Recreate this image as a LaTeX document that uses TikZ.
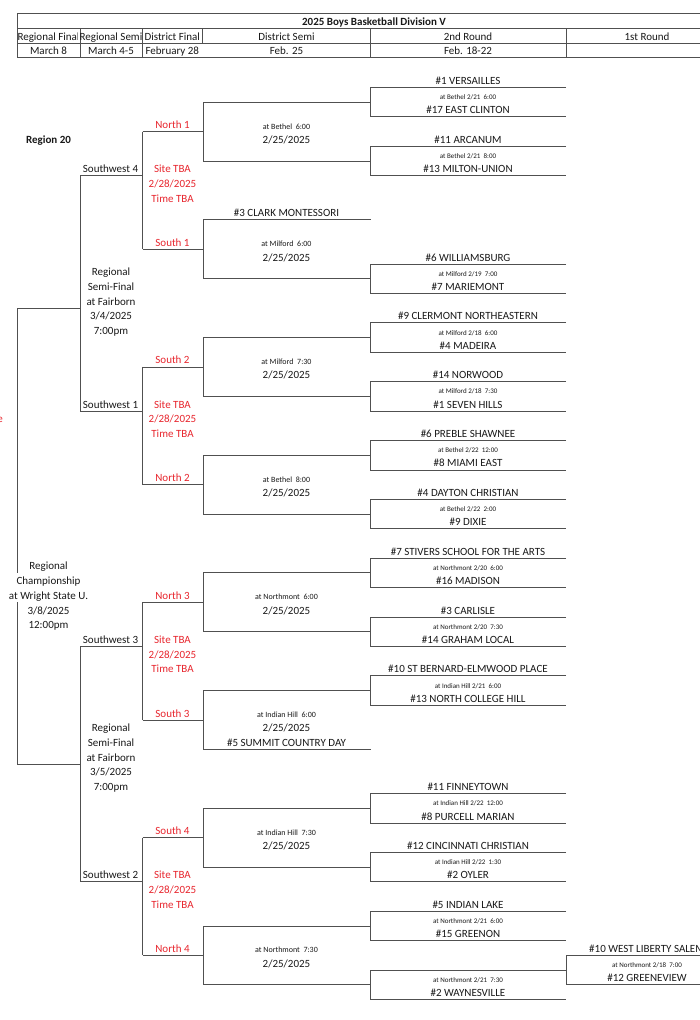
\documentclass[tikz,border=0pt]{standalone}
\usepackage{fontspec}
\setmainfont{Carlito}
\definecolor{bred}{RGB}{232,38,46}
\definecolor{bline}{RGB}{80,80,80}
\definecolor{btext}{RGB}{25,25,25}

% 2nd round match: #1 id, #2 top row, #3 top team, #4 time, #5 bottom team
\newcommand\bmatch[5]{%
  \coordinate (#1tl) at (370.5,{yk(#2)});
  \coordinate (#1tr) at (566,{yk(#2)});
  \coordinate (#1bl) at (370.5,{yk(#2+2)});
  \coordinate (#1br) at (566,{yk(#2+2)});
  \coordinate (#1m) at (370.5,{yk(#2+1)});
  \node[team] (#1a) at (468,{yk(#2)-3}) {#3};
  \node[timetxt] (#1s) at (468,{yk(#2+1)-2.5}) {#4};
  \node[team] (#1b) at (468,{yk(#2+2)-3}) {#5};
  \draw[br] (#1tr) -- (#1tl) -- (#1bl) -- (#1br);
}
% district semi: #1 id, #2 top feed, #3 bottom feed, #4 out row, #5 label, #6 site
\newcommand\dsemi[6]{%
  \coordinate (#1o) at (142.5,{yk(#4)});
  \coordinate (#1j) at (203,{yk(#4)});
  \draw[br] (#2) -- (#2 -| #1j) -- (#3 -| #1j) -- (#3);
  \draw[br] (#1o) -- (#1j);
  \node[redt] (#1l) at (172.5,{yk(#4)-3}) {#5};
  \node[dsm] (#1s) at (286.5,{yk(#4)-2.5}) {#6};
  \node[team] (#1d) at (286.5,{yk(#4+1)-3}) {2/25/2025};
}
% district final: #1 id, #2 top semi, #3 bottom semi, #4 out row, #5 label
\newcommand\dfinal[5]{%
  \coordinate (#1o) at (80,{yk(#4)});
  \coordinate (#1j) at (142.5,{yk(#4)});
  \draw[br] (#2o) -- (#3o);
  \draw[br] (#1o) -- (#1j);
  \node[team] (#1l) at (110.5,{yk(#4)-3}) {#5};
  \node[redt] (#1a) at (172.5,{yk(#4)-3}) {Site TBA};
  \node[redt] (#1b) at (172.5,{yk(#4+1)-3}) {2/28/2025};
  \node[redt] (#1c) at (172.5,{yk(#4+2)-3}) {Time TBA};
}
% regional semi: #1 id, #2 top final, #3 bottom final, #4 out row, #5 date
\newcommand\rsemi[5]{%
  \coordinate (#1o) at (17,{yk(#4)});
  \coordinate (#1j) at (80,{yk(#4)});
  \draw[br] (#2o) -- (#3o);
  \draw[br] (#1o) -- (#1j);
  \node[team] (#1a) at (111,{yk(#4-2)-3}) {Regional};
  \node[team] (#1b) at (111,{yk(#4-1)-3}) {Semi-Final};
  \node[team] (#1c) at (111,{yk(#4)-3}) {at Fairborn};
  \node[team] (#1d) at (111,{yk(#4+1)-3}) {#5};
  \node[team] (#1e) at (111,{yk(#4+2)-3}) {7:00pm};
}

\begin{document}
\begin{tikzpicture}[x=1pt,y=-1pt,
  declare function={yk(\k)=87.5+14.71*\k;},
  br/.style={draw=bline,line width=0.9pt},
  hd/.style={draw=bline,line width=0.8pt},
  team/.style={anchor=base,inner sep=0pt,text=btext,font=\fontsize{11}{13}\selectfont},
  timetxt/.style={anchor=base,inner sep=0pt,text=btext,font=\fontsize{7}{8}\selectfont},
  dsm/.style={anchor=base,inner sep=0pt,text=btext,font=\fontsize{8}{9}\selectfont},
  redt/.style={team,text=bred},
]
\clip (0,0) rectangle (700,1020);
\fill[white] (0,0) rectangle (700,1020);

% ---------- header table ----------
\draw[hd] (17,13.3) -- (700,13.3);
\draw[hd] (17,28.3) -- (700,28.3);
\draw[hd] (17,43) -- (700,43);
\draw[hd] (17,57.5) -- (700,57.5);
\draw[hd] (17,13.3) -- (17,57.5);
\foreach \x in {80,142.5,370.5,566} \draw[hd] (\x,28.3) -- (\x,57.5);
\draw[hd] (202,28.3) -- (202,43);
\node[team,font=\fontsize{11}{13}\selectfont\bfseries] (title) at (374,25.3) {2025 Boys Basketball Division V};
\begin{scope}
  \clip (17.5,28.8) rectangle (77.5,42.5);
  \node[team] (hRF) at (48.5,40) {Regional Final};
\end{scope}
\begin{scope}
  \clip (80.5,28.8) rectangle (142,42.5);
  \node[team] (hRS) at (111,40) {Regional Semi};
\end{scope}
\node[team] (hDF) at (172.3,40) {District Final};
\node[team] (hDS) at (286.5,40) {District Semi};
\node[team] (h2R) at (468,40) {2nd Round};
\node[team] (h1R) at (647,40) {1st Round};
\node[team] (dRF) at (48.5,54.5) {March 8};
\node[team] (dRS) at (111,54.5) {March 4-5};
\node[team] (dDF) at (172.3,54.5) {February 28};
\node[team] (dDS) at (286.5,54.5) {Feb. 25};
\node[team] (d2R) at (468,54.5) {Feb. 18-22};

\node[team,font=\fontsize{11}{13}\selectfont\bfseries] (reg) at (48.5,{yk(4)-3}) {Region 20};
\node[redt,anchor=base east] (cut) at (3,{yk(23)-3}) {e};

% ---------- 2nd round ----------
\bmatch{m1}{0}{\#1 VERSAILLES}{at Bethel 2/21\ \ 6:00}{\#17 EAST CLINTON}
\bmatch{m2}{4}{\#11 ARCANUM}{at Bethel 2/21\ \ 8:00}{\#13 MILTON-UNION}
\bmatch{m3}{12}{\#6 WILLIAMSBURG}{at Milford 2/19\ \ 7:00}{\#7 MARIEMONT}
\bmatch{m4}{16}{\#9 CLERMONT NORTHEASTERN}{at Milford 2/18\ \ 6:00}{\#4 MADEIRA}
\bmatch{m5}{20}{\#14 NORWOOD}{at Milford 2/18\ \ 7:30}{\#1 SEVEN HILLS}
\bmatch{m6}{24}{\#6 PREBLE SHAWNEE}{at Bethel 2/22\ \ 12:00}{\#8 MIAMI EAST}
\bmatch{m7}{28}{\#4 DAYTON CHRISTIAN}{at Bethel 2/22\ \ 2:00}{\#9 DIXIE}
\bmatch{m8}{32}{\#7 STIVERS SCHOOL FOR THE ARTS}{at Northmont 2/20\ \ 6:00}{\#16 MADISON}
\bmatch{m9}{36}{\#3 CARLISLE}{at Northmont 2/20\ \ 7:30}{\#14 GRAHAM LOCAL}
\bmatch{m10}{40}{\#10 ST BERNARD-ELMWOOD PLACE}{at Indian Hill 2/21\ \ 6:00}{\#13 NORTH COLLEGE HILL}
\bmatch{m11}{48}{\#11 FINNEYTOWN}{at Indian Hill 2/22\ \ 12:00}{\#8 PURCELL MARIAN}
\bmatch{m12}{52}{\#12 CINCINNATI CHRISTIAN}{at Indian Hill 2/22\ \ 1:30}{\#2 OYLER}
\bmatch{m13}{56}{\#5 INDIAN LAKE}{at Northmont 2/21\ \ 6:00}{\#15 GREENON}

% match fed by the 1st round
\coordinate (m14tl) at (370.5,{yk(60)});
\coordinate (m14bl) at (370.5,{yk(62)});
\coordinate (m14br) at (566,{yk(62)});
\coordinate (m14m) at (370.5,{yk(61)});
\node[timetxt] (m14s) at (468,{yk(61)-2.5}) {at Northmont 2/21\ \ 7:30};
\node[team] (m14b) at (468,{yk(62)-3}) {\#2 WAYNESVILLE};

% ---------- 1st round ----------
\coordinate (f1tl) at (566,{yk(59)});
\coordinate (f1tr) at (700,{yk(59)});
\coordinate (f1bl) at (566,{yk(61)});
\coordinate (f1br) at (700,{yk(61)});
\coordinate (f1m) at (566,{yk(60)});
\draw[br] (f1tr) -- (f1tl) -- (f1bl) -- (f1br);
\draw[br] (f1m) -- (m14tl) -- (m14bl) -- (m14br);
\node[team] (f1a) at (647,{yk(59)-3}) {\#10 WEST LIBERTY SALEM};
\node[timetxt] (f1s) at (647,{yk(60)-2.5}) {at Northmont 2/18\ \ 7:00};
\node[team] (f1b) at (647,{yk(61)-3}) {\#12 GREENEVIEW};

% ---------- byes into district semis ----------
\coordinate (clR) at (370.5,{yk(9)});
\node[team] (clark) at (286.5,{yk(9)-3}) {\#3 CLARK MONTESSORI};
\coordinate (smR) at (370.5,{yk(45)});
\node[team] (summit) at (286.5,{yk(45)-3}) {\#5 SUMMIT COUNTRY DAY};

% ---------- district semis ----------
\dsemi{N1}{m1m}{m2m}{3}{North 1}{at Bethel\ \ 6:00}
\dsemi{S1}{clR}{m3m}{11}{South 1}{at Milford\ \ 6:00}
\dsemi{S2}{m4m}{m5m}{19}{South 2}{at Milford\ \ 7:30}
\dsemi{N2}{m6m}{m7m}{27}{North 2}{at Bethel\ \ 8:00}
\dsemi{N3}{m8m}{m9m}{35}{North 3}{at Northmont\ \ 6:00}
\dsemi{S3}{m10m}{smR}{43}{South 3}{at Indian Hill\ \ 6:00}
\dsemi{S4}{m11m}{m12m}{51}{South 4}{at Indian Hill\ \ 7:30}
\dsemi{N4}{m13m}{m14m}{59}{North 4}{at Northmont\ \ 7:30}

% ---------- district finals ----------
\dfinal{SWa}{N1}{S1}{6}{Southwest 4}
\dfinal{SWb}{S2}{N2}{22}{Southwest 1}
\dfinal{SWc}{N3}{S3}{38}{Southwest 3}
\dfinal{SWd}{S4}{N4}{54}{Southwest 2}

% ---------- regional semis ----------
\rsemi{RA}{SWa}{SWb}{15}{3/4/2025}
\rsemi{RB}{SWc}{SWd}{46}{3/5/2025}

% ---------- regional final ----------
\coordinate (RFa) at (17,{yk(33)});
\coordinate (RFb) at (17,{yk(35)});
\draw[br] (RAo) -- (RFa);
\draw[br] (RFb) -- (RBo);
\node[team] (RF1) at (48.5,{yk(33)-3}) {Regional};
\node[team] (RF2) at (48.5,{yk(34)-3}) {Championship};
\node[team] (RF3) at (48.5,{yk(35)-3}) {at Wright State U.};
\node[team] (RF4) at (48.5,{yk(36)-3}) {3/8/2025};
\node[team] (RF5) at (48.5,{yk(37)-3}) {12:00pm};
\end{tikzpicture}
\end{document}
